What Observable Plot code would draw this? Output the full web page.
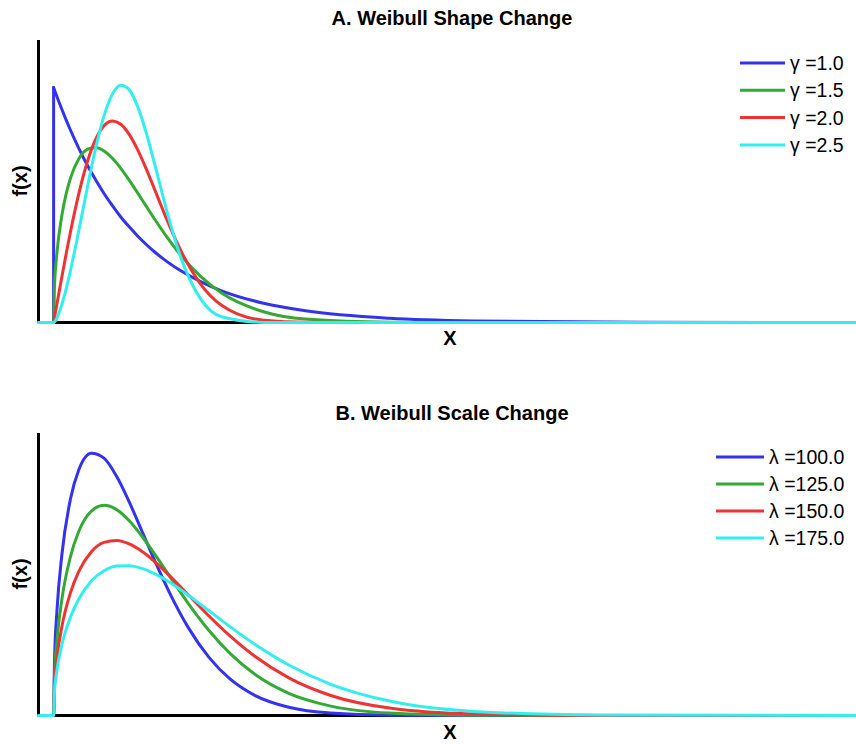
<!DOCTYPE html>
<html><head><meta charset="utf-8">
<script src="https://cdn.jsdelivr.net/npm/d3@7"></script>
<script src="https://cdn.jsdelivr.net/npm/@observablehq/plot@0.6"></script>
<style>body{margin:0;background:#fff;} svg{display:block;}</style>
</head><body><div id="chart"></div>
<script>
// ---- Panel A: Weibull shape change (scale 100) ----
const xTop = [-18, 0, 1, 3, 5, 10, 15, 20, 30, 40, 50, 60, 70, 80, 90, 100, 110, 120, 135, 150, 175, 200, 250, 300, 400, 500, 700, 956];
const xTopExp = [-18, 0, 0, 1, 3, 5, 10, 15, 20, 30, 40, 50, 60, 70, 80, 90, 100, 110, 120, 135, 150, 175, 200, 250, 300, 400, 500, 700, 956];
const gamma10 = [0, 0, 0.01, 0.0099, 0.0097, 0.00951, 0.00905, 0.00861, 0.00819, 0.00741, 0.0067, 0.00607, 0.00549, 0.00497, 0.00449, 0.00407, 0.00368, 0.00333, 0.00301, 0.00259, 0.00223, 0.00174, 0.00135, 0.00082, 0.0005, 0.00018, 0.000067, 0.000009, 0.000001];
const gamma15 = [0, 0, 0.0015, 0.002585, 0.003317, 0.004595, 0.005482, 0.006134, 0.006971, 0.007366, 0.007448, 0.007301, 0.006987, 0.00656, 0.006059, 0.005518, 0.004963, 0.004414, 0.003631, 0.002926, 0.00196, 0.001254, 0.000456, 0.000144, 0.00001, 0, 0, 0];
const gamma20 = [0, 0, 0.0002, 0.000599, 0.000998, 0.00198, 0.002933, 0.003843, 0.005484, 0.006817, 0.007788, 0.008372, 0.008577, 0.008437, 0.008007, 0.007358, 0.00656, 0.005686, 0.004364, 0.003162, 0.001637, 0.000733, 0.0000965, 0.0000074, 0, 0, 0, 0];
const gamma25 = [0, 0, 0.000025, 0.00013, 0.000279, 0.000788, 0.00144, 0.002196, 0.00391, 0.005716, 0.007407, 0.008791, 0.009717, 0.010092, 0.009899, 0.009197, 0.008108, 0.006787, 0.004719, 0.002919, 0.001007, 0.000247, 0.000005, 0, 0, 0, 0, 0];
const shapeLabels = ["γ =1.0", "γ =1.5", "γ =2.0", "γ =2.5"];

// ---- Panel B: Weibull scale change (shape 1.5) ----
const xBottom = [-18, 0, 1, 4, 10, 20, 30, 45, 60, 75, 90, 105, 120, 140, 160, 185, 210, 240, 280, 330, 400, 500, 650, 956];
const lambda100 = [0, 0, 0.0015, 0.002976, 0.004595, 0.006134, 0.006971, 0.007441, 0.007301, 0.006785, 0.006059, 0.005241, 0.004414, 0.003387, 0.002507, 0.001648, 0.001036, 0.000564, 0.000232, 0.000068, 0.00001, 0, 0, 0];
const lambda125 = [0, 0, 0.001073, 0.002134, 0.003318, 0.004502, 0.005227, 0.005801, 0.005962, 0.005841, 0.005527, 0.005093, 0.00459, 0.003882, 0.003191, 0.002412, 0.001763, 0.001163, 0.000629, 0.000267, 0.00007, 0.000008, 0, 0];
const lambda150 = [0, 0, 0.000816, 0.001626, 0.002538, 0.003478, 0.004089, 0.004647, 0.004911, 0.004965, 0.004867, 0.004658, 0.004373, 0.003921, 0.003433, 0.002823, 0.002258, 0.001672, 0.001067, 0.000568, 0.00021, 0.000042, 0.0000025, 0];
const lambda175 = [0, 0, 0.000648, 0.001291, 0.002021, 0.002788, 0.003306, 0.003815, 0.004106, 0.004239, 0.004251, 0.004172, 0.004023, 0.003749, 0.003419, 0.002972, 0.002522, 0.002014, 0.001433, 0.000884, 0.000409, 0.000116, 0.000013, 0];
const scaleLabels = ["λ =100.0", "λ =125.0", "λ =150.0", "λ =175.0"];

const xDomain = [-18, 956];
const colors = ["#3333ee", "#33aa33", "#ee3333", "#33eeee"];
const FONT = "'Liberation Sans', Arial, Helvetica, sans-serif";

function rows(xs, ys, s) { return xs.map((x, i) => ({x, y: ys[i], s})); }

// blue γ=1: flat run and vertical jump drawn straight, decay drawn smooth
const expRows = rows(xTopExp, gamma10, shapeLabels[0]);
const topJump = expRows.slice(0, 3);
const topData = [
  ...expRows.slice(2),
  ...rows(xTop, gamma15, shapeLabels[1]),
  ...rows(xTop, gamma20, shapeLabels[2]),
  ...rows(xTop, gamma25, shapeLabels[3])
];
const bottomData = [
  ...rows(xBottom, lambda100, scaleLabels[0]),
  ...rows(xBottom, lambda125, scaleLabels[1]),
  ...rows(xBottom, lambda150, scaleLabels[2]),
  ...rows(xBottom, lambda175, scaleLabels[3])
];

function panel(o) {
  const marks = [
    Plot.ruleY([0], {stroke: "black", strokeWidth: 3.2}),
    Plot.ruleX([xDomain[0]], {stroke: "black", strokeWidth: 3})
  ];
  if (o.jump) marks.push(Plot.line(o.jump, {x: "x", y: "y", stroke: "s", strokeWidth: 3, curve: "linear"}));
  marks.push(Plot.line(o.data, {x: "x", y: "y", z: "s", stroke: "s", strokeWidth: 3, curve: "monotone-x"}));
  const svg = Plot.plot({
    width: 856, height: 372,
    marginLeft: 38, marginRight: 0, marginTop: o.mt, marginBottom: o.mb,
    style: {fontFamily: FONT, background: "white"},
    x: {domain: xDomain, axis: null},
    y: {domain: [0, o.yMax], axis: null},
    color: {domain: o.labels, range: colors},
    marks
  });
  const s = d3.select(svg);
  s.append("text").attr("x", 452).attr("y", o.titleY).attr("text-anchor", "middle")
    .attr("font-weight", "bold").attr("font-size", 20).attr("fill", "black").text(o.title);
  s.append("text").attr("x", 450).attr("y", o.xlabY).attr("text-anchor", "middle")
    .attr("font-weight", "bold").attr("font-size", 20).attr("fill", "black").text("X");
  s.append("text").attr("transform", `translate(27,${o.ylabCY}) rotate(-90)`).attr("text-anchor", "middle")
    .attr("font-weight", "bold").attr("font-size", 20).attr("fill", "black").text("f(x)");
  const g = s.append("g");
  o.labels.forEach((lab, i) => {
    const y = o.legY + i * o.legStep;
    g.append("line").attr("x1", o.legX1).attr("x2", o.legX2).attr("y1", y).attr("y2", y)
      .attr("stroke", colors[i]).attr("stroke-width", 3);
    g.append("text").attr("x", o.legX2 + 5).attr("y", y + 7).attr("font-size", 19.5)
      .attr("text-anchor", "start").attr("fill", "black").text(lab);
  });
  return svg;
}

const root = document.getElementById("chart");
root.appendChild(panel({
  data: topData, jump: topJump, labels: shapeLabels, yMax: 0.012, mt: 40, mb: 50,
  title: "A. Weibull Shape Change", titleY: 25, xlabY: 345, ylabCY: 181,
  legX1: 740, legX2: 785, legY: 63, legStep: 27.3
}));
root.appendChild(panel({
  data: bottomData, labels: scaleLabels, yMax: 0.008, mt: 61, mb: 29,
  title: "B. Weibull Scale Change", titleY: 48, xlabY: 367, ylabCY: 202,
  legX1: 716, legX2: 764, legY: 85, legStep: 27
}));
</script>
</body></html>
